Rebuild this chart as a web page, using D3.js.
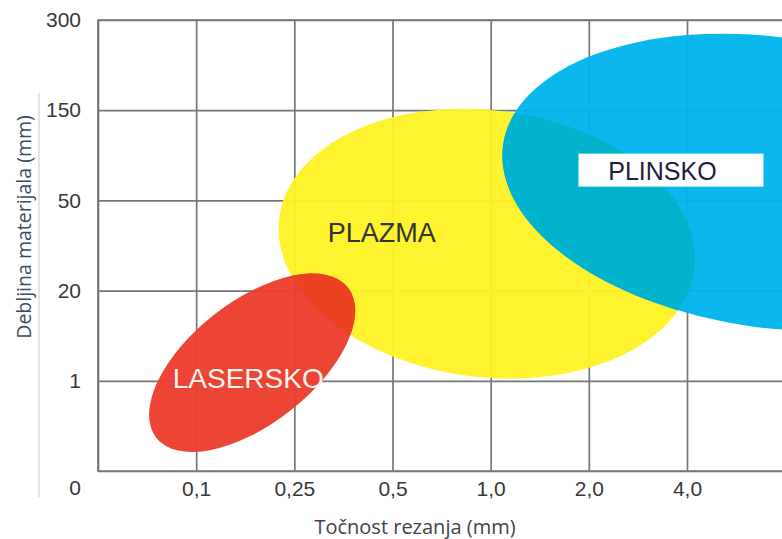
<!DOCTYPE html>
<html>
<head>
<meta charset="utf-8">
<script src="https://cdn.jsdelivr.net/npm/d3@7"></script>
<style>
  body { margin: 0; background: #fff; }
  svg { display: block; }
</style>
</head>
<body>
<svg id="chart" width="782" height="539"></svg>
<script>
// tick labels
const xTicks = ["0", "0,1", "0,25", "0,5", "1,0", "2,0", "4,0"];
const yTicks = ["0", "1", "20", "50", "150", "300"];

// cutting methods, regions in tick-index units
const methods = ["PLAZMA", "LASERSKO", "PLINSKO"];
const centerX = [3.96, 1.57, 6.85];
const centerY = [2.52, 1.20, 3.20];
const spanX = [2.13, 1.24, 2.75];
const spanY = [1.48, 0.68, 1.61];
const tilt = [7, -38, 8];
const labelX = [2.89, 1.53, 5.75];
const labelY = [2.65, 1.03, 3.33];

const colors = {PLAZMA: "#fff226", LASERSKO: "#eb3d2d", PLINSKO: "#00b5ed"};
const overlapColors = {LASERSKO: "#ec4322", PLINSKO: "#02b3cd"};
const labelSize = {PLAZMA: 27, LASERSKO: 28, PLINSKO: 25};

const margin = {top: 20, left: 98},
      right = 782, bottom = 471;

const svg = d3.select("#chart");

const x = d3.scalePoint().domain(xTicks).range([margin.left, 687]);
const y = d3.scalePoint().domain(yTicks).range([bottom, margin.top]);
const xi = d3.scaleLinear().domain([0, xTicks.length - 1]).range(x.range());
const yi = d3.scaleLinear().domain([0, yTicks.length - 1]).range(y.range());
const xStep = x.step(), yStep = y.step();

const regions = methods.map((m, i) => ({
    name: m, cx: centerX[i], cy: centerY[i], rx: spanX[i], ry: spanY[i],
    tilt: tilt[i], lx: labelX[i], ly: labelY[i]
}));

// faint line left of chart
svg.append("line")
    .attr("x1", 39).attr("x2", 39).attr("y1", 93).attr("y2", 497)
    .attr("stroke", "#e4e4e4").attr("stroke-width", 2);

// grid through the axes
const gridColor = "#777";
const gx = svg.append("g")
    .attr("transform", `translate(0,${bottom})`)
    .call(d3.axisBottom(x).tickSize(-(bottom - margin.top)).tickFormat(d => d === "0" ? "" : d));
const gy = svg.append("g")
    .attr("transform", `translate(${margin.left},0)`)
    .call(d3.axisLeft(y).tickSize(-(right - margin.left)));

[gx, gy].forEach(g => {
    g.select(".domain").remove();
    g.selectAll("line").attr("stroke", gridColor).attr("stroke-width", 1.7);
    g.selectAll("text")
        .attr("font-family", "'Liberation Sans', Arial, sans-serif")
        .attr("font-size", 21)
        .attr("fill", "#383838");
});
gx.selectAll("text").attr("y", 10);
gy.selectAll("text").attr("x", -17);
gy.selectAll(".tick").filter(d => d === "0").select("text").attr("dy", "1.12em");

// frame
svg.append("path")
    .attr("d", `M${right},${margin.top}H${margin.left}V${bottom}H${right}`)
    .attr("fill", "none").attr("stroke", gridColor).attr("stroke-width", 1.7);

// ellipses
const ellipseAttrs = (sel) => sel
    .attr("cx", 0).attr("cy", 0)
    .attr("rx", d => d.rx * xStep)
    .attr("ry", d => d.ry * yStep);
const place = d => `translate(${xi(d.cx)},${yi(d.cy)}) rotate(${d.tilt})`;

const defs = svg.append("defs");
regions.forEach((d, i) => {
    defs.append("clipPath").attr("id", "clip" + i)
        .append("ellipse").call(s => s.datum(d)).call(ellipseAttrs)
        .attr("transform", place(d));
});

const plasma = regions[0];
svg.append("g").selectAll("ellipse")
    .data(regions)
    .join("ellipse")
    .call(ellipseAttrs)
    .attr("transform", place)
    .attr("fill", d => colors[d.name])
    .attr("fill-opacity", 0.96);

// overlap of each region with plasma
[1, 2].forEach(i => {
    svg.append("g").attr("clip-path", `url(#clip${i})`)
        .append("ellipse").datum(plasma).call(ellipseAttrs)
        .attr("transform", place(plasma))
        .attr("fill", overlapColors[regions[i].name])
        .attr("fill-opacity", 0.96);
});

// region labels
const labelFont = "'Liberation Sans', Arial, sans-serif";
const plinsko = regions[2];
svg.append("rect")
    .attr("x", xi(plinsko.lx) - 84).attr("y", yi(plinsko.ly) - 17)
    .attr("width", 185).attr("height", 33)
    .attr("fill", "#fff");

svg.append("g").selectAll("text")
    .data(regions)
    .join("text")
    .attr("x", d => xi(d.lx))
    .attr("y", d => yi(d.ly))
    .attr("dy", "0.36em")
    .attr("text-anchor", "middle")
    .attr("font-family", labelFont)
    .attr("font-size", d => labelSize[d.name])
    .attr("fill", d => d.name === "LASERSKO" ? "#fff4f0" : (d.name === "PLINSKO" ? "#231d3a" : "#333"))
    .text(d => d.name);

// axis titles
svg.append("text")
    .attr("x", 415).attr("y", 534)
    .attr("text-anchor", "middle")
    .attr("font-family", "'Open Sans', sans-serif")
    .attr("font-size", 20)
    .attr("fill", "#404348")
    .text("Točnost rezanja (mm)");

svg.append("text")
    .attr("transform", "rotate(-90)")
    .attr("x", -227).attr("y", 31)
    .attr("text-anchor", "middle")
    .attr("font-family", "'Open Sans', sans-serif")
    .attr("font-size", 19.5)
    .attr("fill", "#3a4c66")
    .text("Debljina materijala (mm)");
</script>
</body>
</html>
